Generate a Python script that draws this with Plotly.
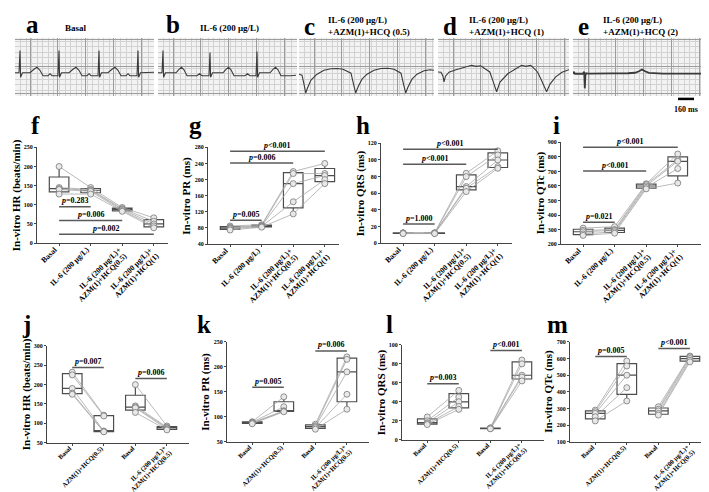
import plotly.graph_objects as go

W, H = 709, 492
SERIF = "Liberation Serif"

# ---------------- ECG traces (time in ms, amplitude in grid units) ----------------
ecg_a_t = [0, 40, 50, 56, 75, 150, 190, 220, 250, 280, 330, 350, 370, 430, 440, 446, 465, 540, 580, 610,
           640, 670, 720, 740, 760, 830, 840, 846, 865, 930, 970, 1000, 1030, 1060, 1110, 1130, 1150, 1220,
           1230, 1236, 1255, 1330, 1390]
ecg_a_v = [23.5, 23.5, 46, 19, 23.5, 23.5, 27, 29, 26, 20.5, 20.5, 22.5, 20.5, 20.5, 46, 19, 23.5, 23.5, 27, 29,
           26, 20.5, 20.5, 22.5, 20.5, 20.5, 46, 19, 23.5, 23.5, 27, 29, 26, 20.5, 20.5, 22.5, 20.5, 20.5,
           46, 19, 23.5, 23.5, 24]
ecg_b_t = [0, 40, 50, 56, 75, 180, 210, 235, 260, 290, 390, 415, 440, 510, 520, 526, 545, 650, 680, 705,
           730, 760, 870, 895, 920, 980, 990, 996, 1015, 1120, 1150, 1175, 1200, 1230, 1330, 1380]
ecg_b_v = [23.5, 23.5, 46, 19, 23.5, 23.5, 27, 29, 26.5, 20.5, 20.5, 22.5, 20.5, 20.5, 44, 19, 23.5, 23.5, 27, 29,
           26.5, 20.5, 20.5, 22.5, 20.5, 20.5, 45, 19, 23.5, 23.5, 27, 29, 26.5, 20.5, 20.5, 21]
ecg_c_t = [0, 30, 50, 67, 85, 120, 180, 250, 320, 380, 440, 480, 520, 545, 567, 590, 630, 680, 750, 820,
           890, 950, 990, 1020, 1045, 1067, 1090, 1130, 1180, 1250, 1310, 1350]
ecg_c_v = [22, 21, 12, 3, 8, 16, 22, 26, 27.5, 27.8, 27, 25, 23, 12, 3, 9, 17, 22, 26, 27.8,
           28, 27, 24.5, 23, 12, 3, 9, 17, 22, 25.5, 26.5, 26]
ecg_d_t = [0, 30, 50, 60, 75, 110, 180, 260, 336, 380, 427, 470, 518, 550, 586, 620, 700, 770, 836, 880,
           927, 960, 995, 1030, 1086, 1120, 1177, 1240, 1290, 1310]
ecg_d_v = [24.3, 24, 20, 14.3, 20, 24, 26.5, 29, 31, 30, 30.5, 27.5, 24.3, 15, 4.3, 14, 22.7, 27, 31, 30,
           31, 28, 24.3, 17, 4.3, 12, 19.3, 24, 26, 26.5]
ecg_e_t = [0, 10, 20, 40, 100, 112, 118, 124, 132, 150, 250, 400, 550, 620, 660, 690, 720, 760, 900,
           1050, 1200, 1350]
ecg_e_v = [22.5, 24, 22.5, 22.7, 22.7, 24.5, 7.7, 21, 23, 22.7, 22.5, 22.8, 23, 23.5, 25, 26.7, 25, 23.3,
           22.7, 22.5, 22.8, 22.6]
ecg_titles = ["Basal", "IL-6 (200 μg/L)", "IL-6 (200 μg/L)<br>+AZM(1)+HCQ (0.5)",
              "IL-6 (200 μg/L)<br>+AZM(1)+HCQ (1)", "IL-6 (200 μg/L)<br>+AZM(1)+HCQ (2)"]
ecg_letters = ["a", "b", "c", "d", "e"]
scale_bar_ms = [1050, 1210]
scale_bar_label = "160 ms"

# ---------------- category labels ----------------
cats_top = ["Basal", "IL-6 (200 μg/L)", "IL-6 (200 μg/L)+<br>AZM(1)+HCQ(0.5)", "IL-6 (200 μg/L)+<br>AZM(1)+HCQ(1)"]
cats_bottom = ["Basal", "AZM(1)+HCQ(0.5)", "Basal", "IL-6 (200 μg/L)+<br>AZM(1)+HCQ(0.5)"]

# ---------------- panel data (5 hearts per group) ----------------
hr_basal = [200, 145, 142, 140, 128]
hr_il6 = [145, 140, 138, 135, 128]
hr_il6_azm_hcq05 = [93, 90, 88, 85, 83]
hr_il6_azm_hcq1 = [66, 57, 50, 45, 40]
hr_basal_b = [232, 225, 190, 178, 175]
hr_azm_hcq05 = [121, 119, 80, 79, 78]

pr_basal = [85, 82, 80, 78, 75]
pr_il6 = [88, 86, 85, 84, 82]
pr_il6_azm_hcq05 = [220, 215, 190, 145, 115]
pr_il6_azm_hcq1 = [240, 215, 210, 200, 190]
pr_basal_b = [90, 89, 88, 87, 86]
pr_azm_hcq05 = [140, 120, 112, 111, 110]

qrs_basal = [12.5, 12, 12, 12, 11.5]
qrs_il6 = [12.5, 12, 12, 12, 11.5]
qrs_il6_azm_hcq05 = [84, 80, 68, 66, 62]
qrs_il6_azm_hcq1 = [111, 106, 100, 92, 90]
qrs_basal_b = [24, 20, 18, 17, 16]
qrs_azm_hcq05 = [52, 45, 40, 35, 32]

qtc_basal = [310, 295, 285, 270, 260]
qtc_il6 = [320, 300, 295, 285, 275]
qtc_il6_azm_hcq05 = [615, 610, 600, 590, 580]
qtc_il6_azm_hcq1 = [820, 780, 770, 720, 620]
qtc_basal_b = [290, 280, 270, 250, 225]
qtc_azm_hcq05 = [585, 555, 500, 425, 345]

# significance bars: (from group, to group, bar level, label)
f_pvals = [(0, 1, 95, "=0.283"), (0, 2, 59, "=0.006"), (0, 3, 23, "=0.002")]
g_pvals = [(0, 1, 99, "=0.005"), (0, 2, 241, "=0.006"), (0, 3, 270, "<0.001")]
h_pvals = [(0, 1, 23, "=1.000"), (0, 2, 95, "<0.001"), (0, 3, 113, "<0.001")]
i_pvals = [(0, 1, 350, "=0.021"), (0, 2, 703, "<0.001"), (0, 3, 866, "<0.001")]
j_pvals = [(0, 1, 244, "=0.007"), (2, 3, 216, "=0.006")]
k_pvals = [(0, 1, 159, "=0.005"), (2, 3, 232, "=0.006")]
l_pvals = [(0, 1, 59, "=0.003"), (2, 3, 94, "<0.001")]
m_pvals = [(0, 1, 612, "=0.005"), (2, 3, 660, "<0.001")]


def fx(p):
    return p / W


def fy(p):
    return 1 - p / H


def xn(n):
    return "x" if n == 1 else f"x{n}"


def yn(n):
    return "y" if n == 1 else f"y{n}"


def xkey(n):
    return "xaxis" if n == 1 else f"xaxis{n}"


def ykey(n):
    return "yaxis" if n == 1 else f"yaxis{n}"


fig = go.Figure()
layout = {}
annotations = []
shapes = []

# ---------------- ECG strips ----------------
ecg_pos = [(7, 146), (150, 289), (291, 426), (430, 561), (565, 700)]
ecg_data = [(ecg_a_t, ecg_a_v), (ecg_b_t, ecg_b_v), (ecg_c_t, ecg_c_v), (ecg_d_t, ecg_d_v), (ecg_e_t, ecg_e_v)]
ecg_letter_x = [16, 156, 294, 433, 568]
ecg_title_x = [55, 190, 318, 459, 593]
ECG_Y0, ECG_Y1 = 27, 86
for i, ((x0, x1), (t, v)) in enumerate(zip(ecg_pos, ecg_data)):
    n = i + 1
    layout[xkey(n)] = dict(domain=[fx(x0), fx(x1)], range=[0, (x1 - x0) * 10], anchor=yn(n),
                           showgrid=True, gridcolor="#9c9c9c", gridwidth=1, dtick=278, tick0=150,
                           minor=dict(showgrid=True, dtick=55.6, gridcolor="#d2d2d2", gridwidth=0.7),
                           showticklabels=False, ticks="", zeroline=False, showline=False)
    layout[ykey(n)] = dict(domain=[fy(ECG_Y1), fy(ECG_Y0)], range=[0, 59], anchor=xn(n),
                           showgrid=True, gridcolor="#9c9c9c", gridwidth=1, dtick=27.8, tick0=2,
                           minor=dict(showgrid=True, dtick=5.56, gridcolor="#d2d2d2", gridwidth=0.7),
                           showticklabels=False, ticks="", zeroline=False, showline=False)
    shapes.append(dict(type="rect", xref=f"{xn(n)} domain", yref=f"{yn(n)} domain", x0=0, x1=1, y0=0, y1=1,
                       fillcolor="#f3f3f3", line=dict(width=0), layer="below"))
    fig.add_trace(go.Scatter(x=t, y=v, mode="lines", line=dict(color="#3a3a3a", width=1.8 if n == 5 else 1.1),
                             xaxis=xn(n), yaxis=yn(n), hoverinfo="skip"))
    annotations.append(dict(text=ecg_letters[i], x=fx(ecg_letter_x[i]), y=fy(14 if i < 2 else 16),
                            xref="paper", yref="paper", xanchor="left", yanchor="middle", showarrow=False,
                            font=dict(family=SERIF, size=25, color="black", weight="bold")))
    annotations.append(dict(text=ecg_titles[i], x=fx(ecg_title_x[i]), y=fy(17.5 if i < 2 else 15.5),
                            xref="paper", yref="paper", xanchor="left", yanchor="middle", align="left",
                            showarrow=False, font=dict(family=SERIF, size=9, color="black", weight="bold")))

shapes.append(dict(type="line", xref="x5", yref="paper", x0=scale_bar_ms[0], x1=scale_bar_ms[1],
                   y0=fy(89), y1=fy(89), line=dict(color="black", width=2.5)))
annotations.append(dict(text=scale_bar_label, x=fx(678), y=fy(100), xref="paper", yref="paper",
                        xanchor="center", yanchor="middle", showarrow=False,
                        font=dict(family=SERIF, size=8, color="black", weight="bold")))

# ---------------- box panels ----------------
panels = [
    dict(letter="f", data=[hr_basal, hr_il6, hr_il6_azm_hcq05, hr_il6_azm_hcq1], pairs=False,
         x0=29, x1=160, y0=138, y1=235, yrange=[0, 250], dtick=50, xrange=[-0.7, 3.45],
         cats=cats_top, title="In-vitro HR (beats/min)", pv=f_pvals, lx=21),
    dict(letter="g", data=[pr_basal, pr_il6, pr_il6_azm_hcq05, pr_il6_azm_hcq1], pairs=False,
         x0=200, x1=331, y0=138, y1=236, yrange=[40, 280], dtick=40, xrange=[-0.7, 3.45],
         cats=cats_top, title="In-vitro PR (ms)", pv=g_pvals, lx=179),
    dict(letter="h", data=[qrs_basal, qrs_il6, qrs_il6_azm_hcq05, qrs_il6_azm_hcq1], pairs=False,
         x0=373, x1=504, y0=134, y1=235, yrange=[0, 120], dtick=20, xrange=[-0.7, 3.45],
         cats=cats_top, title="In-vitro QRS (ms)", pv=h_pvals, lx=346),
    dict(letter="i", data=[qtc_basal, qtc_il6, qtc_il6_azm_hcq05, qtc_il6_azm_hcq1], pairs=False,
         x0=553, x1=695, y0=133, y1=236, yrange=[200, 900], dtick=100, xrange=[-0.7, 3.8],
         cats=cats_top, title="In-vitro QTc (ms)", pv=i_pvals, lx=543),
    dict(letter="j", data=[hr_basal_b, hr_azm_hcq05, hr_basal, hr_il6_azm_hcq05], pairs=True,
         x0=39, x1=181, y0=339, y1=437, yrange=[50, 300], dtick=50, xrange=[-0.8, 3.7],
         cats=cats_bottom, title="In-vitro HR (beats/min)", pv=j_pvals, lx=12),
    dict(letter="k", data=[pr_basal_b, pr_azm_hcq05, pr_basal, pr_il6_azm_hcq05], pairs=True,
         x0=219, x1=361, y0=335, y1=436, yrange=[50, 250], dtick=50, xrange=[-0.8, 3.7],
         cats=cats_bottom, title="In-vitro PR (ms)", pv=k_pvals, lx=187),
    dict(letter="l", data=[qrs_basal_b, qrs_azm_hcq05, qrs_basal, qrs_il6_azm_hcq05], pairs=True,
         x0=394, x1=536, y0=338, y1=434, yrange=[0, 100], dtick=20, xrange=[-0.8, 3.7],
         cats=cats_bottom, title="In-vitro QRS (ms)", pv=l_pvals, lx=376),
    dict(letter="m", data=[qtc_basal_b, qtc_azm_hcq05, qtc_basal, qtc_il6_azm_hcq05], pairs=True,
         x0=562, x1=704, y0=335, y1=436, yrange=[100, 700], dtick=100, xrange=[-0.8, 3.7],
         cats=cats_bottom, title="In-vitro QTc (ms)", pv=m_pvals, lx=537),
]

AX = "#444444"
for k, p in enumerate(panels):
    n = k + 6
    xa, ya = xn(n), yn(n)
    lab_size = 7.8 if k < 4 else 6.6
    line_off = 6.0 if k < 4 else 5.0
    layout[xkey(n)] = dict(domain=[fx(p["x0"]), fx(p["x1"])], range=p["xrange"], anchor=ya,
                           tickmode="array", tickvals=[0, 1, 2, 3], showticklabels=False,
                           showline=True, linecolor=AX, linewidth=1, ticks="outside", ticklen=2,
                           tickcolor=AX, showgrid=False, zeroline=False)
    layout[ykey(n)] = dict(domain=[fy(p["y1"]), fy(p["y0"])], range=p["yrange"], anchor=xa,
                           dtick=p["dtick"], tick0=p["yrange"][0],
                           tickfont=dict(family=SERIF, size=6, color="black", weight="bold"),
                           showline=True, linecolor=AX, linewidth=1, ticks="outside", ticklen=2,
                           tickcolor=AX, showgrid=False, zeroline=False)
    # rotated category labels, one annotation per line, right-aligned at each category
    for c, lab in enumerate(p["cats"]):
        for li, line_txt in enumerate(lab.split("<br>")):
            annotations.append(dict(text=line_txt, x=c, y=fy(p["y1"]), xref=xa, yref="paper",
                                    xanchor="right", yanchor="top", xshift=2 + line_off * li,
                                    yshift=-(0.5 + line_off * li),
                                    textangle=-45, showarrow=False, borderpad=0,
                                    font=dict(family=SERIF, size=lab_size, color="black", weight="bold")))
    # boxes
    for c, vals in enumerate(p["data"]):
        fig.add_trace(go.Box(x=[c] * len(vals), y=vals, width=0.62, quartilemethod="exclusive",
                             boxpoints=False, fillcolor="white", line=dict(color="#4d4d4d", width=1.2),
                             whiskerwidth=0, xaxis=xa, yaxis=ya, hoverinfo="skip"))
    # subject lines
    for s in range(5):
        if p["pairs"]:
            xs = [0, 1, None, 2, 3]
            ys = [p["data"][0][s], p["data"][1][s], None, p["data"][2][s], p["data"][3][s]]
        else:
            xs = [0, 1, 2, 3]
            ys = [p["data"][c][s] for c in range(4)]
        fig.add_trace(go.Scatter(x=xs, y=ys, mode="lines", line=dict(color="#a8a8a8", width=0.8),
                                 xaxis=xa, yaxis=ya, hoverinfo="skip", connectgaps=False))
    # points
    px_, py_ = [], []
    for c, vals in enumerate(p["data"]):
        px_ += [c] * len(vals)
        py_ += vals
    fig.add_trace(go.Scatter(x=px_, y=py_, mode="markers",
                             marker=dict(size=6, color="#e8e8e8", line=dict(color="#777777", width=0.8)),
                             xaxis=xa, yaxis=ya, hoverinfo="skip"))
    # significance bars
    for (a, b, lvl, txt) in p["pv"]:
        fig.add_trace(go.Scatter(x=[a, b], y=[lvl, lvl], mode="lines", line=dict(color="#5a5a5a", width=1.5),
                                 xaxis=xa, yaxis=ya, hoverinfo="skip"))
        annotations.append(dict(text=f"<i>p</i>{txt}", x=(a + b) / 2, y=lvl, xref=xa, yref=ya,
                                xanchor="center", yanchor="middle", yshift=6, showarrow=False,
                                font=dict(family=SERIF, size=8, color="black", weight="bold")))
    # y-axis title
    annotations.append(dict(text=p["title"], x=fx(p["x0"] - 21), y=fy((p["y0"] + p["y1"]) / 2),
                            xref="paper", yref="paper", xanchor="center", yanchor="middle",
                            textangle=-90, showarrow=False,
                            font=dict(family=SERIF, size=11, color="black", weight="bold")))
    # panel letter
    annotations.append(dict(text=p["letter"], x=fx(p["lx"]), y=fy(116 if k < 4 else 317),
                            xref="paper", yref="paper", xanchor="left", yanchor="middle", showarrow=False,
                            font=dict(family=SERIF, size=25, color="black", weight="bold")))

fig.update_layout(**layout)
fig.update_layout(width=W, height=H, margin=dict(l=0, r=0, t=0, b=0), paper_bgcolor="white",
                  plot_bgcolor="white", showlegend=False, boxmode="overlay", hovermode=False,
                  annotations=annotations, shapes=shapes, font=dict(family=SERIF))
fig.write_html("out.html")
